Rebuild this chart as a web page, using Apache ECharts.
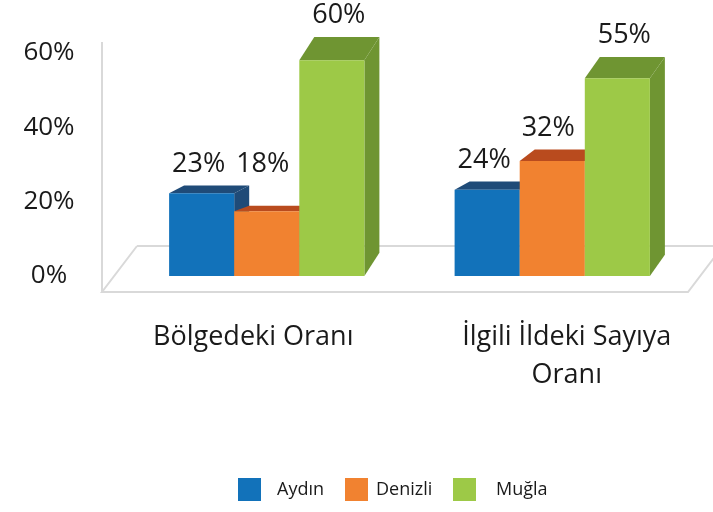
<!DOCTYPE html>
<html>
<head>
<meta charset="utf-8">
<script src="https://cdn.jsdelivr.net/npm/echarts@6/dist/echarts.min.js"></script>
<style>
html,body{margin:0;padding:0;background:#fff;}
#chart{width:713px;height:512px;}
</style>
</head>
<body>
<div id="chart"></div>
<script>
// ---- data ----
var categories = ['Bölgedeki Oranı', 'İlgili İldeki Sayıya Oranı'];
var seriesNames = ['Aydın', 'Denizli', 'Muğla'];
var aydin = [0.23, 0.24];
var denizli = [0.18, 0.32];
var mugla = [0.60, 0.55];
var yTicks = [0, 0.2, 0.4, 0.6];

// ---- styles ----
var FONT = '"Open Sans", sans-serif';
var frontColors = ['#1272BA', '#F18230', '#9DC947'];
var topColors = ['#1F4B78', '#B94B1E', '#6F9532'];
var sideColors = ['#1F4B78', '#B94B1E', '#6F9532'];
var allValues = [aydin, denizli, mugla];
var labelDX = [-3, -4, 7];

var chart = echarts.init(document.getElementById('chart'), null, {renderer: 'canvas'});

function depthY(h) { return Math.max(5, 0.117 * h - 2); }

function barRender(idx) {
  return function (params, api) {
    var cat = api.value(0), val = api.value(1);
    var base = api.coord([cat, 0]);
    var top = api.coord([cat, val]);
    var band = api.size([1, 0])[0];
    var w = band * 0.228;
    var dx = 15;
    var x0 = base[0] - 1.5 * w + idx * w;
    var h = base[1] - top[1];
    var dy = depthY(h);
    var ty = top[1];
    var labelY = ty - dy - 8;
    if (idx === 1) {
      var ot = api.coord([cat, allValues[0][cat]]);
      var oy = ot[1] - depthY(base[1] - ot[1]) - 8;
      if (oy < labelY) labelY = oy;
    }
    return {
      type: 'group',
      children: [
        {type: 'polygon', shape: {points: [[x0 + w, ty], [x0 + w + dx, ty - dy], [x0 + w + dx, base[1] - dy], [x0 + w, base[1]]]},
          style: {fill: sideColors[idx]}},
        {type: 'polygon', shape: {points: [[x0, ty], [x0 + w, ty], [x0 + w + dx, ty - dy], [x0 + dx, ty - dy]]},
          style: {fill: topColors[idx]}},
        {type: 'rect', shape: {x: x0, y: ty, width: w, height: h},
          style: {fill: frontColors[idx]}},
        {type: 'text', x: x0 + w / 2 + labelDX[idx], y: labelY,
          style: {text: Math.round(val * 100) + '%', fill: '#1a1a1a', font: '27px ' + FONT,
            textAlign: 'center', textVerticalAlign: 'bottom'}}
      ]
    };
  };
}

function floorRender(params, api) {
  var cs = params.coordSys;
  var base = api.coord([0, 0]);
  var left = cs.x - 22, right = cs.x + cs.width - 7;
  var fy = base[1] + 16, by = base[1] - 30;
  var ddx = 35;
  var ls = {stroke: '#D9D9D9', lineWidth: 2, fill: null};
  return {
    type: 'group',
    children: [
      {type: 'polyline', shape: {points: [[left + ddx, by], [left, fy], [right, fy], [right + ddx, by], [left + ddx, by]]}, style: ls},
      {type: 'line', shape: {x1: left, y1: cs.y - 11, x2: left, y2: fy + 1}, style: ls}
    ]
  };
}

var series = [{
  type: 'custom', name: 'floor', silent: true, data: [[0, 0]], renderItem: floorRender, z: 1
}];
seriesNames.forEach(function (n, i) {
  series.push({
    type: 'custom', name: n, renderItem: barRender(i), z: 2, yAxisIndex: 1,
    itemStyle: {color: frontColors[i]},
    data: allValues[i].map(function (v, c) { return [c, v]; })
  });
});

var legendLeft = [238, 345, 453];
var legendPad = [11, 3, 15];
var legends = seriesNames.map(function (n, i) {
  return {
    data: [n], left: legendLeft[i], top: 478, itemWidth: 23, itemHeight: 23, padding: 0,
    icon: 'rect', orient: 'horizontal',
    textStyle: {fontFamily: FONT, fontSize: 18, color: '#1a1a1a', padding: [2, 0, 0, legendPad[i]]}
  };
});

chart.setOption({
  animation: false,
  backgroundColor: '#fff',
  grid: {left: 124, right: 18, top: 53, bottom: 236, containLabel: false},
  xAxis: {
    type: 'category', data: categories,
    axisLine: {show: false}, axisTick: {show: false}, splitLine: {show: false},
    axisLabel: {
      interval: 0, margin: 42, fontFamily: FONT, fontSize: 27, color: '#1a1a1a', lineHeight: 38,
      formatter: function (v, i) {
        if (i === 0) return '{l|' + v + '}';
        return '{r|İlgili İldeki Sayıya}\n{r|Oranı}';
      },
      rich: {
        l: {fontFamily: FONT, fontSize: 27, color: '#1a1a1a', lineHeight: 38, padding: [0, 27, 0, 0]},
        r: {fontFamily: FONT, fontSize: 27, color: '#1a1a1a', lineHeight: 38, padding: [0, 0, 0, 29]}
      }
    }
  },
  yAxis: [{
    type: 'value', min: 0, max: 0.6, interval: 0.2,
    axisLine: {show: false}, axisTick: {show: false}, splitLine: {show: false},
    axisLabel: {
      margin: 75, align: 'center', fontFamily: FONT, fontSize: 26, color: '#1a1a1a',
      formatter: function (v) { return Math.round(v * 100) + '%'; }
    }
  }, {
    type: 'value', min: 0, max: 0.62, show: false,
    axisLine: {show: false}, axisTick: {show: false}, splitLine: {show: false}, axisLabel: {show: false}
  }],
  legend: legends,
  series: series
});
</script>
</body>
</html>
